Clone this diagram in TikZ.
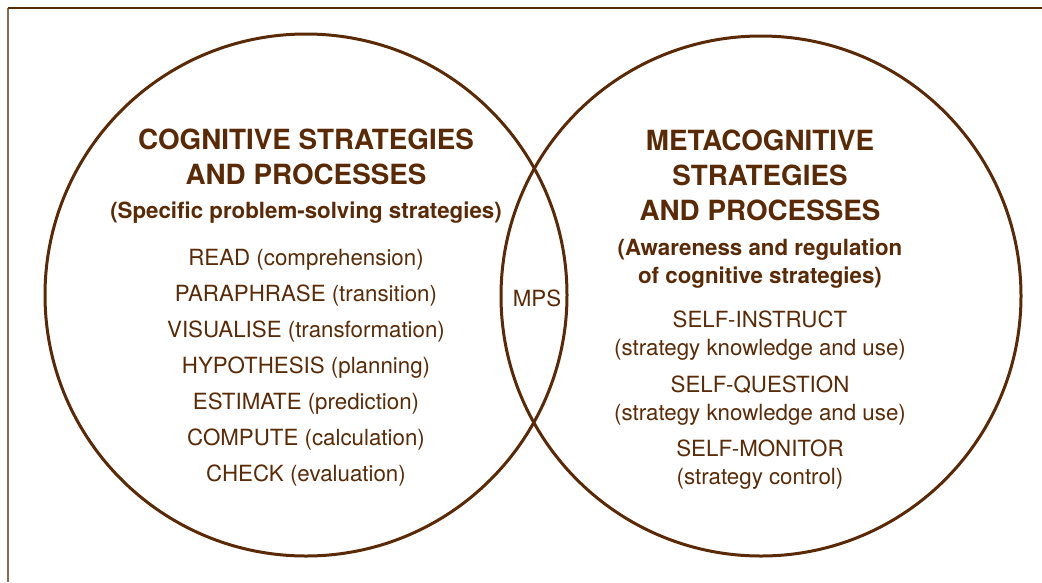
\documentclass[tikz,border=0pt]{standalone}
\usepackage{fontspec}
\setmainfont{TeX Gyre Heros}
\usetikzlibrary{matrix}
\usetikzlibrary{positioning}
\definecolor{darkbrown}{HTML}{5A2A06}
\definecolor{framebrown}{HTML}{8C6A4C}

\begin{document}
\begin{tikzpicture}[x=1pt,y=-1pt,ring/.style={circle,draw=darkbrown,line width=3pt,inner sep=0pt},
head/.style={text=darkbrown,align=center,font=\bfseries\fontsize{27.8}{35}\selectfont},
subhead/.style={text=darkbrown,align=center,font=\bfseries\fontsize{22.3}{28}\selectfont},
item/.style={text=darkbrown,align=center,inner sep=0pt,font=\fontsize{22.3}{28}\selectfont},
list/.style={matrix of nodes,row sep=0pt,nodes={item,minimum height=36pt,text height=16pt,text depth=4pt}}]
\useasboundingbox (0,0) rectangle (1042,582);

% frame
\draw[framebrown,line width=1.5pt] (8,8) -- (8,582);
\draw[darkbrown,line width=1.5pt] (8,8) -- (1042,8);

\node[ring,minimum size=522pt] (cogring) at (306,295) {};
\node[ring,minimum size=520pt] (metaring) at (761,296) {};

\node[head] (coghead) at (306,157) {COGNITIVE STRATEGIES\\AND PROCESSES};
\node[subhead] (cogsub) at (306,213) {(Specific problem-solving strategies)};

\matrix (cog) [list] at (306,367)
{
READ (comprehension)\\
PARAPHRASE (transition)\\
VISUALISE (transformation)\\
HYPOTHESIS (planning)\\
ESTIMATE (prediction)\\
COMPUTE (calculation)\\
CHECK (evaluation)\\
};

\node[item] (mps) at (537,298) {MPS};

\node[head] (metahead) at (760,175) {METACOGNITIVE\\STRATEGIES\\AND PROCESSES};
\node[subhead] (metasub) at (760,264) {(Awareness and regulation\\of cognitive strategies)};

\node[item,minimum height=64pt] (instruct) at (760,336) {SELF-INSTRUCT\\(strategy knowledge and use)};
\node[item,minimum height=64pt,below=0pt of instruct] (question) {SELF-QUESTION\\(strategy knowledge and use)};
\node[item,minimum height=64pt,below=0pt of question] (monitor) {SELF-MONITOR\\(strategy control)};

\end{tikzpicture}
\end{document}
